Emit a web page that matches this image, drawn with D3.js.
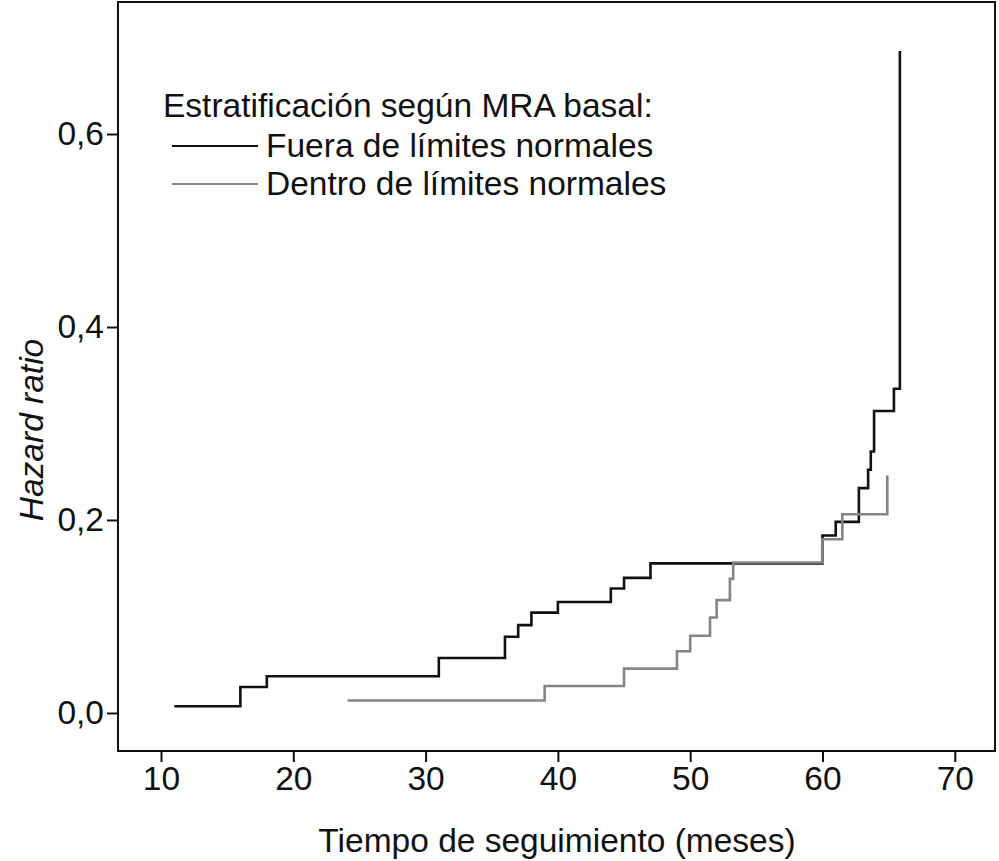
<!DOCTYPE html>
<html>
<head>
<meta charset="utf-8">
<script src="https://cdn.jsdelivr.net/npm/d3@7.9.0/dist/d3.min.js"></script>
<style>
  body { margin: 0; background: #fff; }
  svg { display: block; font-family: "Liberation Sans", Arial, sans-serif; }
</style>
</head>
<body>
<svg id="chart" width="999" height="861"></svg>
<script>
// time (months) where each step starts, and hazard ratio after it
const fueraTime   = [11, 16, 18, 31, 36, 37, 38, 40, 44, 45, 47, 60, 61, 62.75, 63.45, 63.65, 63.9, 65.4, 65.85];
const fueraHR     = [0.007, 0.027, 0.038, 0.057, 0.079, 0.091, 0.104, 0.115, 0.129, 0.140, 0.155, 0.184, 0.198, 0.233, 0.252, 0.271, 0.313, 0.336, 0.686];
const dentroTime  = [24.1, 39, 45, 49, 50, 51.5, 52, 53, 53.25, 60, 61.5, 64.9];
const dentroHR    = [0.013, 0.028, 0.046, 0.064, 0.080, 0.099, 0.117, 0.139, 0.156, 0.180, 0.206, 0.246];
const xTicks      = [10, 20, 30, 40, 50, 60, 70];
const yTicks      = [0, 0.2, 0.4, 0.6];
const seriesNames = ['Fuera de límites normales', 'Dentro de límites normales'];
const seriesColor = ['#111', '#858585'];

const svg = d3.select('#chart');
const plotL = 118, plotR = 995, plotT = 2, plotB = 751;
const fontSize = '33.5px';

const x = d3.scaleLinear().domain([6.75, 73.04]).range([plotL, plotR]);
const y = d3.scaleLinear().domain([-0.0394, 0.7368]).range([plotB, plotT]);

// frame
svg.append('rect')
   .attr('x', plotL).attr('y', plotT)
   .attr('width', plotR - plotL).attr('height', plotB - plotT)
   .attr('fill', 'none').attr('stroke', '#111').attr('stroke-width', 2);

const fmt = d => d3.format('.1f')(d).replace('.', ',');

const xAxis = svg.append('g')
  .attr('transform', `translate(0,${plotB})`)
  .call(d3.axisBottom(x).tickValues(xTicks).tickSize(11).tickPadding(4));
const yAxis = svg.append('g')
  .attr('transform', `translate(${plotL},0)`)
  .call(d3.axisLeft(y).tickValues(yTicks).tickFormat(fmt).tickSize(11).tickPadding(3));

[xAxis, yAxis].forEach(g => {
  g.select('.domain').remove();
  g.selectAll('line').attr('stroke', '#111').attr('stroke-width', 2);
  g.selectAll('text').attr('fill', '#111').style('font-size', fontSize)
   .style('font-family', '"Liberation Sans", Arial, sans-serif');
});

// curves
const line = d3.line()
  .x(d => x(d[0])).y(d => y(d[1]))
  .curve(d3.curveStepAfter);

const series = [d3.zip(fueraTime, fueraHR), d3.zip(dentroTime, dentroHR)];
series.forEach((pts, i) => {
  svg.append('path')
     .datum(pts)
     .attr('d', line)
     .attr('fill', 'none')
     .attr('stroke', seriesColor[i])
     .attr('stroke-width', 2.6)
     .attr('stroke-linejoin', 'miter');
});

// axis titles
svg.append('text')
   .attr('x', 557).attr('y', 852)
   .attr('text-anchor', 'middle')
   .attr('fill', '#111').style('font-size', fontSize)
   .text('Tiempo de seguimiento (meses)');

svg.append('text')
   .attr('transform', 'translate(43,430) rotate(-90)')
   .attr('text-anchor', 'middle')
   .attr('fill', '#111').style('font-size', fontSize).style('font-style', 'italic')
   .text('Hazard ratio');

// legend
const legend = svg.append('g');
legend.append('text')
   .attr('x', 163).attr('y', 117)
   .attr('fill', '#111').style('font-size', fontSize)
   .text('Estratificación según MRA basal:');

seriesNames.forEach((name, i) => {
  const ly = 146 + i * 38;
  legend.append('line')
     .attr('x1', 172).attr('x2', 258)
     .attr('y1', ly).attr('y2', ly)
     .attr('stroke', seriesColor[i]).attr('stroke-width', 2);
  legend.append('text')
     .attr('x', 266).attr('y', ly + 11)
     .attr('fill', '#111').style('font-size', fontSize)
     .text(name);
});
</script>
</body>
</html>
